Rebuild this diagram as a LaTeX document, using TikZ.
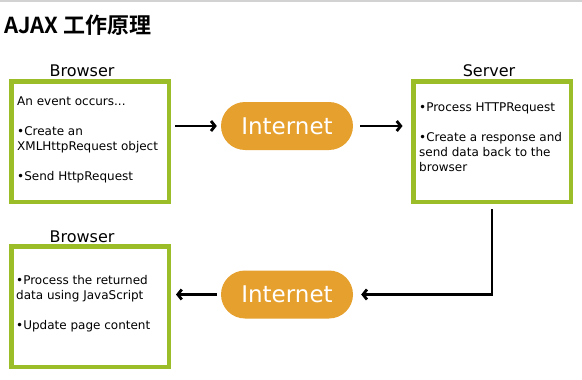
\documentclass[tikz,border=0pt]{standalone}
\usepackage{fontspec}
\setmainfont{DejaVu Sans}
\newfontfamily\titlefont{Noto Sans CJK SC}[BoldFont={Noto Sans CJK SC Bold}]
\usepackage{tikz}
\usetikzlibrary{positioning, calc, arrows.meta}

\definecolor{boxgreen}{HTML}{9BBE28}
\definecolor{netorange}{HTML}{E6A02D}

\begin{document}
\begin{tikzpicture}[
    x=1pt, y=-1pt,
    node distance=40pt,
    every node/.style={font=\fontsize{12}{15}\selectfont},
    box/.style={rectangle, draw=boxgreen, line width=4.5pt, fill=white, minimum width=157.5pt, minimum height=120.5pt},
    net/.style={rectangle, rounded corners=24pt, fill=netorange, text=white, minimum width=132pt, minimum height=48pt, font=\fontsize{23}{26}\selectfont},
    txt/.style={anchor=north west, inner sep=0pt, align=left},
    lbl/.style={anchor=base, inner sep=0pt, font=\fontsize{16}{18}\selectfont},
    arr/.style={line width=2.8pt, -{Straight Barb[length=4pt, width=10pt]}}
]
\useasboundingbox (0,0) rectangle (582,380);

% Title
\draw[gray!35, line width=1.5pt] (0,1) -- (582,1);
\node[anchor=base west, inner sep=0pt, font=\titlefont\bfseries\fontsize{22}{24}\selectfont] (title) at (4,34) {AJAX 工作原理};

% Nodes
\node[box] (browserA) at (90,141.5) {};
\node[box] (server) at (492,141.5) {};
\node[box, below=of browserA] (browserB) {};
\node[net] (netA) at (287,126) {Internet};
\node[net] (netB) at (287,294.5) {Internet};

% Labels
\node[lbl] (browserAlbl) at ([xshift=-8pt, yshift=3pt]browserA.north) {Browser};
\node[lbl] (serverlbl) at ([xshift=-3pt, yshift=3pt]server.north) {Server};
\node[lbl] (browserBlbl) at ([xshift=-8pt, yshift=1.3pt]browserB.north) {Browser};

% Box texts
\node[txt] (browserAtxt) at ([shift={(8pt,-15.5pt)}]browserA.north west)
    {\strut An event occurs...\\[15pt]•Create an\\XMLHttpRequest object\\[15pt]•Send HttpRequest};
\node[txt] (servertxt) at ([shift={(8pt,-22pt)}]server.north west)
    {\strut •Process HTTPRequest\\[15pt]•Create a response and\\send data back to the\\browser};
\node[txt] (browserBtxt) at ([shift={(7pt,-29.8pt)}]browserB.north west)
    {\strut •Process the returned\\data using JavaScript\\[15pt]•Update page content};

% Arrows
\draw[arr, shorten <=4pt, shorten >=4pt] (netA -| browserA.east) -- (netA.west);
\draw[arr, shorten <=7pt, shorten >=8.5pt] (netA.east) -- (netA -| server.west);
\draw[arr, shorten <=5pt, shorten >=8pt] (server.south) |- (netB.east);
\draw[arr, shorten <=4pt, shorten >=5pt] (netB.west) -- (netB -| browserB.east);

\end{tikzpicture}
\end{document}
